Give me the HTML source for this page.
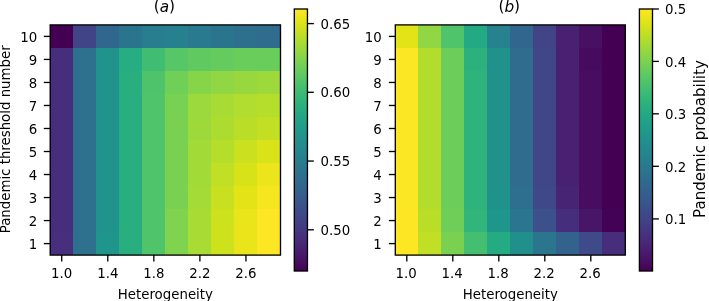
<!DOCTYPE html>
<html><head><meta charset="utf-8"><title>Figure</title>
<style>html,body{margin:0;padding:0;background:#fff}svg{display:block}</style>
</head><body>
<svg width="709" height="301" viewBox="0 0 709 301" font-family="'DejaVu Sans', 'Liberation Sans', sans-serif" font-size="13.33" fill="#000">
<defs><linearGradient id="vg" x1="0" y1="1" x2="0" y2="0">
<stop offset="0.0000" stop-color="#440154"/>
<stop offset="0.0312" stop-color="#470d60"/>
<stop offset="0.0625" stop-color="#48186a"/>
<stop offset="0.0938" stop-color="#482374"/>
<stop offset="0.1250" stop-color="#472d7b"/>
<stop offset="0.1562" stop-color="#453781"/>
<stop offset="0.1875" stop-color="#424086"/>
<stop offset="0.2188" stop-color="#3e4989"/>
<stop offset="0.2500" stop-color="#3b528b"/>
<stop offset="0.2812" stop-color="#375b8d"/>
<stop offset="0.3125" stop-color="#33638d"/>
<stop offset="0.3438" stop-color="#2f6b8e"/>
<stop offset="0.3750" stop-color="#2c728e"/>
<stop offset="0.4062" stop-color="#297a8e"/>
<stop offset="0.4375" stop-color="#26828e"/>
<stop offset="0.4688" stop-color="#23898e"/>
<stop offset="0.5000" stop-color="#21918c"/>
<stop offset="0.5312" stop-color="#1f988b"/>
<stop offset="0.5625" stop-color="#1fa088"/>
<stop offset="0.5938" stop-color="#22a785"/>
<stop offset="0.6250" stop-color="#28ae80"/>
<stop offset="0.6562" stop-color="#32b67a"/>
<stop offset="0.6875" stop-color="#3fbc73"/>
<stop offset="0.7188" stop-color="#4ec36b"/>
<stop offset="0.7500" stop-color="#5ec962"/>
<stop offset="0.7812" stop-color="#70cf57"/>
<stop offset="0.8125" stop-color="#84d44b"/>
<stop offset="0.8438" stop-color="#98d83e"/>
<stop offset="0.8750" stop-color="#addc30"/>
<stop offset="0.9062" stop-color="#c2df23"/>
<stop offset="0.9375" stop-color="#d8e219"/>
<stop offset="0.9688" stop-color="#ece51b"/>
<stop offset="1.0000" stop-color="#fde725"/>
</linearGradient></defs>
<rect width="709" height="301" fill="#fff"/>
<g shape-rendering="crispEdges">
<rect x="50" y="25" width="23" height="23" fill="#440154"/>
<rect x="73" y="25" width="23" height="23" fill="#414487"/>
<rect x="96" y="25" width="23" height="23" fill="#31678e"/>
<rect x="119" y="25" width="23" height="23" fill="#2b748e"/>
<rect x="142" y="25" width="23" height="23" fill="#287d8e"/>
<rect x="165" y="25" width="23" height="23" fill="#27808e"/>
<rect x="188" y="25" width="23" height="23" fill="#297a8e"/>
<rect x="211" y="25" width="23" height="23" fill="#2b748e"/>
<rect x="234" y="25" width="23" height="23" fill="#2d708e"/>
<rect x="257" y="25" width="23" height="23" fill="#2f6c8e"/>
<rect x="50" y="48" width="23" height="23" fill="#472e7c"/>
<rect x="73" y="48" width="23" height="23" fill="#2d718e"/>
<rect x="96" y="48" width="23" height="23" fill="#20938c"/>
<rect x="119" y="48" width="23" height="23" fill="#26ad81"/>
<rect x="142" y="48" width="23" height="23" fill="#40bd72"/>
<rect x="165" y="48" width="23" height="23" fill="#56c667"/>
<rect x="188" y="48" width="23" height="23" fill="#60ca60"/>
<rect x="211" y="48" width="23" height="23" fill="#65cb5e"/>
<rect x="234" y="48" width="23" height="23" fill="#69cd5b"/>
<rect x="257" y="48" width="23" height="23" fill="#69cd5b"/>
<rect x="50" y="71" width="23" height="23" fill="#472e7c"/>
<rect x="73" y="71" width="23" height="23" fill="#2d718e"/>
<rect x="96" y="71" width="23" height="23" fill="#20938c"/>
<rect x="119" y="71" width="23" height="23" fill="#29af7f"/>
<rect x="142" y="71" width="23" height="23" fill="#4ec36b"/>
<rect x="165" y="71" width="23" height="23" fill="#70cf57"/>
<rect x="188" y="71" width="23" height="23" fill="#86d549"/>
<rect x="211" y="71" width="23" height="23" fill="#90d743"/>
<rect x="234" y="71" width="23" height="23" fill="#98d83e"/>
<rect x="257" y="71" width="23" height="23" fill="#9dd93b"/>
<rect x="50" y="94" width="23" height="23" fill="#472e7c"/>
<rect x="73" y="94" width="23" height="23" fill="#2d718e"/>
<rect x="96" y="94" width="23" height="23" fill="#20938c"/>
<rect x="119" y="94" width="23" height="23" fill="#29af7f"/>
<rect x="142" y="94" width="23" height="23" fill="#50c46a"/>
<rect x="165" y="94" width="23" height="23" fill="#77d153"/>
<rect x="188" y="94" width="23" height="23" fill="#9bd93c"/>
<rect x="211" y="94" width="23" height="23" fill="#a8db34"/>
<rect x="234" y="94" width="23" height="23" fill="#b0dd2f"/>
<rect x="257" y="94" width="23" height="23" fill="#b5de2b"/>
<rect x="50" y="117" width="23" height="23" fill="#472e7c"/>
<rect x="73" y="117" width="23" height="23" fill="#2d718e"/>
<rect x="96" y="117" width="23" height="23" fill="#20938c"/>
<rect x="119" y="117" width="23" height="23" fill="#29af7f"/>
<rect x="142" y="117" width="23" height="23" fill="#50c46a"/>
<rect x="165" y="117" width="23" height="23" fill="#7ad151"/>
<rect x="188" y="117" width="23" height="23" fill="#9dd93b"/>
<rect x="211" y="117" width="23" height="23" fill="#addc30"/>
<rect x="234" y="117" width="23" height="23" fill="#bade28"/>
<rect x="257" y="117" width="23" height="23" fill="#c2df23"/>
<rect x="50" y="140" width="23" height="23" fill="#472e7c"/>
<rect x="73" y="140" width="23" height="23" fill="#2d718e"/>
<rect x="96" y="140" width="23" height="23" fill="#20938c"/>
<rect x="119" y="140" width="23" height="23" fill="#29af7f"/>
<rect x="142" y="140" width="23" height="23" fill="#50c46a"/>
<rect x="165" y="140" width="23" height="23" fill="#7ad151"/>
<rect x="188" y="140" width="23" height="23" fill="#a2da37"/>
<rect x="211" y="140" width="23" height="23" fill="#b5de2b"/>
<rect x="234" y="140" width="23" height="23" fill="#cae11f"/>
<rect x="257" y="140" width="23" height="23" fill="#dae319"/>
<rect x="50" y="163" width="23" height="23" fill="#472e7c"/>
<rect x="73" y="163" width="23" height="23" fill="#2d718e"/>
<rect x="96" y="163" width="23" height="23" fill="#20938c"/>
<rect x="119" y="163" width="23" height="23" fill="#29af7f"/>
<rect x="142" y="163" width="23" height="23" fill="#50c46a"/>
<rect x="165" y="163" width="23" height="23" fill="#7ad151"/>
<rect x="188" y="163" width="23" height="23" fill="#a2da37"/>
<rect x="211" y="163" width="23" height="23" fill="#c0df25"/>
<rect x="234" y="163" width="23" height="23" fill="#d8e219"/>
<rect x="257" y="163" width="23" height="23" fill="#ece51b"/>
<rect x="50" y="186" width="23" height="23" fill="#472e7c"/>
<rect x="73" y="186" width="23" height="23" fill="#2d718e"/>
<rect x="96" y="186" width="23" height="23" fill="#20938c"/>
<rect x="119" y="186" width="23" height="23" fill="#29af7f"/>
<rect x="142" y="186" width="23" height="23" fill="#50c46a"/>
<rect x="165" y="186" width="23" height="23" fill="#7ad151"/>
<rect x="188" y="186" width="23" height="23" fill="#a5db36"/>
<rect x="211" y="186" width="23" height="23" fill="#c8e020"/>
<rect x="234" y="186" width="23" height="23" fill="#e2e418"/>
<rect x="257" y="186" width="23" height="23" fill="#f6e620"/>
<rect x="50" y="209" width="23" height="23" fill="#472e7c"/>
<rect x="73" y="209" width="23" height="23" fill="#2d718e"/>
<rect x="96" y="209" width="23" height="23" fill="#20938c"/>
<rect x="119" y="209" width="23" height="23" fill="#29af7f"/>
<rect x="142" y="209" width="23" height="23" fill="#50c46a"/>
<rect x="165" y="209" width="23" height="23" fill="#7fd34e"/>
<rect x="188" y="209" width="23" height="23" fill="#a8db34"/>
<rect x="211" y="209" width="23" height="23" fill="#cde11d"/>
<rect x="234" y="209" width="23" height="23" fill="#eae51a"/>
<rect x="257" y="209" width="23" height="23" fill="#fde725"/>
<rect x="50" y="232" width="23" height="23" fill="#472f7d"/>
<rect x="73" y="232" width="23" height="23" fill="#2d718e"/>
<rect x="96" y="232" width="23" height="23" fill="#1f958b"/>
<rect x="119" y="232" width="23" height="23" fill="#29af7f"/>
<rect x="142" y="232" width="23" height="23" fill="#50c46a"/>
<rect x="165" y="232" width="23" height="23" fill="#7fd34e"/>
<rect x="188" y="232" width="23" height="23" fill="#a8db34"/>
<rect x="211" y="232" width="23" height="23" fill="#cde11d"/>
<rect x="234" y="232" width="23" height="23" fill="#eae51a"/>
<rect x="257" y="232" width="23" height="23" fill="#fde725"/>
</g>
<g stroke="#000" stroke-width="1.33" fill="none">
<line x1="61.72" y1="255.10" x2="61.72" y2="261.50"/>
<line x1="107.78" y1="255.10" x2="107.78" y2="261.50"/>
<line x1="153.84" y1="255.10" x2="153.84" y2="261.50"/>
<line x1="199.89" y1="255.10" x2="199.89" y2="261.50"/>
<line x1="245.95" y1="255.10" x2="245.95" y2="261.50"/>
<line x1="50.20" y1="36.41" x2="43.80" y2="36.41"/>
<line x1="50.20" y1="59.43" x2="43.80" y2="59.43"/>
<line x1="50.20" y1="82.45" x2="43.80" y2="82.45"/>
<line x1="50.20" y1="105.47" x2="43.80" y2="105.47"/>
<line x1="50.20" y1="128.49" x2="43.80" y2="128.49"/>
<line x1="50.20" y1="151.51" x2="43.80" y2="151.51"/>
<line x1="50.20" y1="174.53" x2="43.80" y2="174.53"/>
<line x1="50.20" y1="197.55" x2="43.80" y2="197.55"/>
<line x1="50.20" y1="220.57" x2="43.80" y2="220.57"/>
<line x1="50.20" y1="243.59" x2="43.80" y2="243.59"/>
<rect x="50.20" y="24.90" width="230.30" height="230.20" stroke-linejoin="miter"/>
</g>
<text x="61.72" y="277.70" text-anchor="middle">1.0</text>
<text x="107.78" y="277.70" text-anchor="middle">1.4</text>
<text x="153.84" y="277.70" text-anchor="middle">1.8</text>
<text x="199.89" y="277.70" text-anchor="middle">2.2</text>
<text x="245.95" y="277.70" text-anchor="middle">2.6</text>
<text x="37.17" y="42.06" text-anchor="end">10</text>
<text x="37.17" y="65.08" text-anchor="end">9</text>
<text x="37.17" y="88.10" text-anchor="end">8</text>
<text x="37.17" y="111.12" text-anchor="end">7</text>
<text x="37.17" y="134.14" text-anchor="end">6</text>
<text x="37.17" y="157.16" text-anchor="end">5</text>
<text x="37.17" y="180.18" text-anchor="end">4</text>
<text x="37.17" y="203.20" text-anchor="end">3</text>
<text x="37.17" y="226.22" text-anchor="end">2</text>
<text x="37.17" y="249.24" text-anchor="end">1</text>
<text x="165.35" y="298.60" text-anchor="middle">Heterogeneity</text>
<text x="164.35" y="11.35" font-size="15.3" text-anchor="middle">(<tspan font-style="italic" dy="0.8">a</tspan><tspan dy="-0.8" dx="-0.3">)</tspan></text>
<text transform="translate(10.00,139.30) rotate(-90)" text-anchor="middle">Pandemic threshold number</text>
<g shape-rendering="crispEdges">
<rect x="395" y="25" width="23" height="23" fill="#e2e418"/>
<rect x="418" y="25" width="23" height="23" fill="#90d743"/>
<rect x="441" y="25" width="23" height="23" fill="#50c46a"/>
<rect x="464" y="25" width="23" height="23" fill="#23a983"/>
<rect x="487" y="25" width="23" height="23" fill="#26828e"/>
<rect x="510" y="25" width="23" height="23" fill="#31668e"/>
<rect x="533" y="25" width="23" height="23" fill="#414487"/>
<rect x="556" y="25" width="23" height="23" fill="#482173"/>
<rect x="579" y="25" width="23" height="23" fill="#471063"/>
<rect x="602" y="25" width="23" height="23" fill="#440154"/>
<rect x="395" y="48" width="23" height="23" fill="#fbe723"/>
<rect x="418" y="48" width="23" height="23" fill="#b2dd2d"/>
<rect x="441" y="48" width="23" height="23" fill="#6ccd5a"/>
<rect x="464" y="48" width="23" height="23" fill="#2cb17e"/>
<rect x="487" y="48" width="23" height="23" fill="#21918c"/>
<rect x="510" y="48" width="23" height="23" fill="#2f6c8e"/>
<rect x="533" y="48" width="23" height="23" fill="#404688"/>
<rect x="556" y="48" width="23" height="23" fill="#482173"/>
<rect x="579" y="48" width="23" height="23" fill="#460b5e"/>
<rect x="602" y="48" width="23" height="23" fill="#440154"/>
<rect x="395" y="71" width="23" height="23" fill="#fbe723"/>
<rect x="418" y="71" width="23" height="23" fill="#b2dd2d"/>
<rect x="441" y="71" width="23" height="23" fill="#6ccd5a"/>
<rect x="464" y="71" width="23" height="23" fill="#2eb37c"/>
<rect x="487" y="71" width="23" height="23" fill="#21918c"/>
<rect x="510" y="71" width="23" height="23" fill="#2f6c8e"/>
<rect x="533" y="71" width="23" height="23" fill="#404688"/>
<rect x="556" y="71" width="23" height="23" fill="#482173"/>
<rect x="579" y="71" width="23" height="23" fill="#470d60"/>
<rect x="602" y="71" width="23" height="23" fill="#440154"/>
<rect x="395" y="94" width="23" height="23" fill="#fbe723"/>
<rect x="418" y="94" width="23" height="23" fill="#b2dd2d"/>
<rect x="441" y="94" width="23" height="23" fill="#6ccd5a"/>
<rect x="464" y="94" width="23" height="23" fill="#2eb37c"/>
<rect x="487" y="94" width="23" height="23" fill="#21918c"/>
<rect x="510" y="94" width="23" height="23" fill="#2f6c8e"/>
<rect x="533" y="94" width="23" height="23" fill="#404688"/>
<rect x="556" y="94" width="23" height="23" fill="#482173"/>
<rect x="579" y="94" width="23" height="23" fill="#470d60"/>
<rect x="602" y="94" width="23" height="23" fill="#440154"/>
<rect x="395" y="117" width="23" height="23" fill="#fbe723"/>
<rect x="418" y="117" width="23" height="23" fill="#b2dd2d"/>
<rect x="441" y="117" width="23" height="23" fill="#6ccd5a"/>
<rect x="464" y="117" width="23" height="23" fill="#2eb37c"/>
<rect x="487" y="117" width="23" height="23" fill="#21918c"/>
<rect x="510" y="117" width="23" height="23" fill="#2f6c8e"/>
<rect x="533" y="117" width="23" height="23" fill="#404688"/>
<rect x="556" y="117" width="23" height="23" fill="#482173"/>
<rect x="579" y="117" width="23" height="23" fill="#470d60"/>
<rect x="602" y="117" width="23" height="23" fill="#440154"/>
<rect x="395" y="140" width="23" height="23" fill="#fbe723"/>
<rect x="418" y="140" width="23" height="23" fill="#b2dd2d"/>
<rect x="441" y="140" width="23" height="23" fill="#6ccd5a"/>
<rect x="464" y="140" width="23" height="23" fill="#2eb37c"/>
<rect x="487" y="140" width="23" height="23" fill="#21918c"/>
<rect x="510" y="140" width="23" height="23" fill="#2f6c8e"/>
<rect x="533" y="140" width="23" height="23" fill="#404688"/>
<rect x="556" y="140" width="23" height="23" fill="#482173"/>
<rect x="579" y="140" width="23" height="23" fill="#470d60"/>
<rect x="602" y="140" width="23" height="23" fill="#440154"/>
<rect x="395" y="163" width="23" height="23" fill="#fbe723"/>
<rect x="418" y="163" width="23" height="23" fill="#b2dd2d"/>
<rect x="441" y="163" width="23" height="23" fill="#6ccd5a"/>
<rect x="464" y="163" width="23" height="23" fill="#2eb37c"/>
<rect x="487" y="163" width="23" height="23" fill="#21918c"/>
<rect x="510" y="163" width="23" height="23" fill="#2f6c8e"/>
<rect x="533" y="163" width="23" height="23" fill="#404688"/>
<rect x="556" y="163" width="23" height="23" fill="#482173"/>
<rect x="579" y="163" width="23" height="23" fill="#470d60"/>
<rect x="602" y="163" width="23" height="23" fill="#440154"/>
<rect x="395" y="186" width="23" height="23" fill="#fbe723"/>
<rect x="418" y="186" width="23" height="23" fill="#b2dd2d"/>
<rect x="441" y="186" width="23" height="23" fill="#6ccd5a"/>
<rect x="464" y="186" width="23" height="23" fill="#2eb37c"/>
<rect x="487" y="186" width="23" height="23" fill="#20928c"/>
<rect x="510" y="186" width="23" height="23" fill="#2e6e8e"/>
<rect x="533" y="186" width="23" height="23" fill="#3f4889"/>
<rect x="556" y="186" width="23" height="23" fill="#482475"/>
<rect x="579" y="186" width="23" height="23" fill="#470d60"/>
<rect x="602" y="186" width="23" height="23" fill="#440154"/>
<rect x="395" y="209" width="23" height="23" fill="#fde725"/>
<rect x="418" y="209" width="23" height="23" fill="#bade28"/>
<rect x="441" y="209" width="23" height="23" fill="#6ece58"/>
<rect x="464" y="209" width="23" height="23" fill="#31b57b"/>
<rect x="487" y="209" width="23" height="23" fill="#1f968b"/>
<rect x="510" y="209" width="23" height="23" fill="#2b758e"/>
<rect x="533" y="209" width="23" height="23" fill="#3c508b"/>
<rect x="556" y="209" width="23" height="23" fill="#472e7c"/>
<rect x="579" y="209" width="23" height="23" fill="#481668"/>
<rect x="602" y="209" width="23" height="23" fill="#440256"/>
<rect x="395" y="232" width="23" height="23" fill="#fde725"/>
<rect x="418" y="232" width="23" height="23" fill="#c0df25"/>
<rect x="441" y="232" width="23" height="23" fill="#7ad151"/>
<rect x="464" y="232" width="23" height="23" fill="#44bf70"/>
<rect x="487" y="232" width="23" height="23" fill="#25ab82"/>
<rect x="510" y="232" width="23" height="23" fill="#21908d"/>
<rect x="533" y="232" width="23" height="23" fill="#2b758e"/>
<rect x="556" y="232" width="23" height="23" fill="#33638d"/>
<rect x="579" y="232" width="23" height="23" fill="#3e4a89"/>
<rect x="602" y="232" width="23" height="23" fill="#472d7b"/>
</g>
<g stroke="#000" stroke-width="1.33" fill="none">
<line x1="406.80" y1="255.10" x2="406.80" y2="261.50"/>
<line x1="452.80" y1="255.10" x2="452.80" y2="261.50"/>
<line x1="498.80" y1="255.10" x2="498.80" y2="261.50"/>
<line x1="544.80" y1="255.10" x2="544.80" y2="261.50"/>
<line x1="590.80" y1="255.10" x2="590.80" y2="261.50"/>
<line x1="395.30" y1="36.41" x2="388.90" y2="36.41"/>
<line x1="395.30" y1="59.43" x2="388.90" y2="59.43"/>
<line x1="395.30" y1="82.45" x2="388.90" y2="82.45"/>
<line x1="395.30" y1="105.47" x2="388.90" y2="105.47"/>
<line x1="395.30" y1="128.49" x2="388.90" y2="128.49"/>
<line x1="395.30" y1="151.51" x2="388.90" y2="151.51"/>
<line x1="395.30" y1="174.53" x2="388.90" y2="174.53"/>
<line x1="395.30" y1="197.55" x2="388.90" y2="197.55"/>
<line x1="395.30" y1="220.57" x2="388.90" y2="220.57"/>
<line x1="395.30" y1="243.59" x2="388.90" y2="243.59"/>
<rect x="395.30" y="24.90" width="230.00" height="230.20" stroke-linejoin="miter"/>
</g>
<text x="406.10" y="277.70" text-anchor="middle">1.0</text>
<text x="452.10" y="277.70" text-anchor="middle">1.4</text>
<text x="498.10" y="277.70" text-anchor="middle">1.8</text>
<text x="544.10" y="277.70" text-anchor="middle">2.2</text>
<text x="590.10" y="277.70" text-anchor="middle">2.6</text>
<text x="381.67" y="42.06" text-anchor="end">10</text>
<text x="381.67" y="65.08" text-anchor="end">9</text>
<text x="381.67" y="88.10" text-anchor="end">8</text>
<text x="381.67" y="111.12" text-anchor="end">7</text>
<text x="381.67" y="134.14" text-anchor="end">6</text>
<text x="381.67" y="157.16" text-anchor="end">5</text>
<text x="381.67" y="180.18" text-anchor="end">4</text>
<text x="381.67" y="203.20" text-anchor="end">3</text>
<text x="381.67" y="226.22" text-anchor="end">2</text>
<text x="381.67" y="249.24" text-anchor="end">1</text>
<text x="510.30" y="298.60" text-anchor="middle">Heterogeneity</text>
<text x="509.30" y="11.35" font-size="15.3" text-anchor="middle">(<tspan font-style="italic" dy="0.8">b</tspan><tspan dy="-0.8" dx="-0.3">)</tspan></text>
<rect x="294.30" y="9.00" width="13.15" height="262.00" fill="url(#vg)"/>
<g stroke="#000" stroke-width="1.33" fill="none">
<line x1="307.45" y1="23.60" x2="313.85" y2="23.60"/>
<line x1="307.45" y1="92.30" x2="313.85" y2="92.30"/>
<line x1="307.45" y1="161.05" x2="313.85" y2="161.05"/>
<line x1="307.45" y1="229.80" x2="313.85" y2="229.80"/>
<rect x="294.30" y="9.00" width="13.15" height="262.00"/>
</g>
<text x="320.48" y="28.70">0.65</text>
<text x="320.48" y="97.40">0.60</text>
<text x="320.48" y="166.15">0.55</text>
<text x="320.48" y="234.90">0.50</text>
<rect x="639.40" y="9.00" width="13.10" height="262.00" fill="url(#vg)"/>
<g stroke="#000" stroke-width="1.33" fill="none">
<line x1="652.50" y1="9.00" x2="658.90" y2="9.00"/>
<line x1="652.50" y1="61.40" x2="658.90" y2="61.40"/>
<line x1="652.50" y1="113.80" x2="658.90" y2="113.80"/>
<line x1="652.50" y1="166.30" x2="658.90" y2="166.30"/>
<line x1="652.50" y1="218.90" x2="658.90" y2="218.90"/>
<rect x="639.40" y="9.00" width="13.10" height="262.00"/>
</g>
<text x="665.03" y="14.20">0.5</text>
<text x="665.03" y="66.60">0.4</text>
<text x="665.03" y="119.00">0.3</text>
<text x="665.03" y="171.50">0.2</text>
<text x="665.03" y="224.10">0.1</text>
<text font-size="15.0" transform="translate(705.00,139.05) rotate(-90)" text-anchor="middle">Pandemic probability</text>
</svg>
</body></html>
